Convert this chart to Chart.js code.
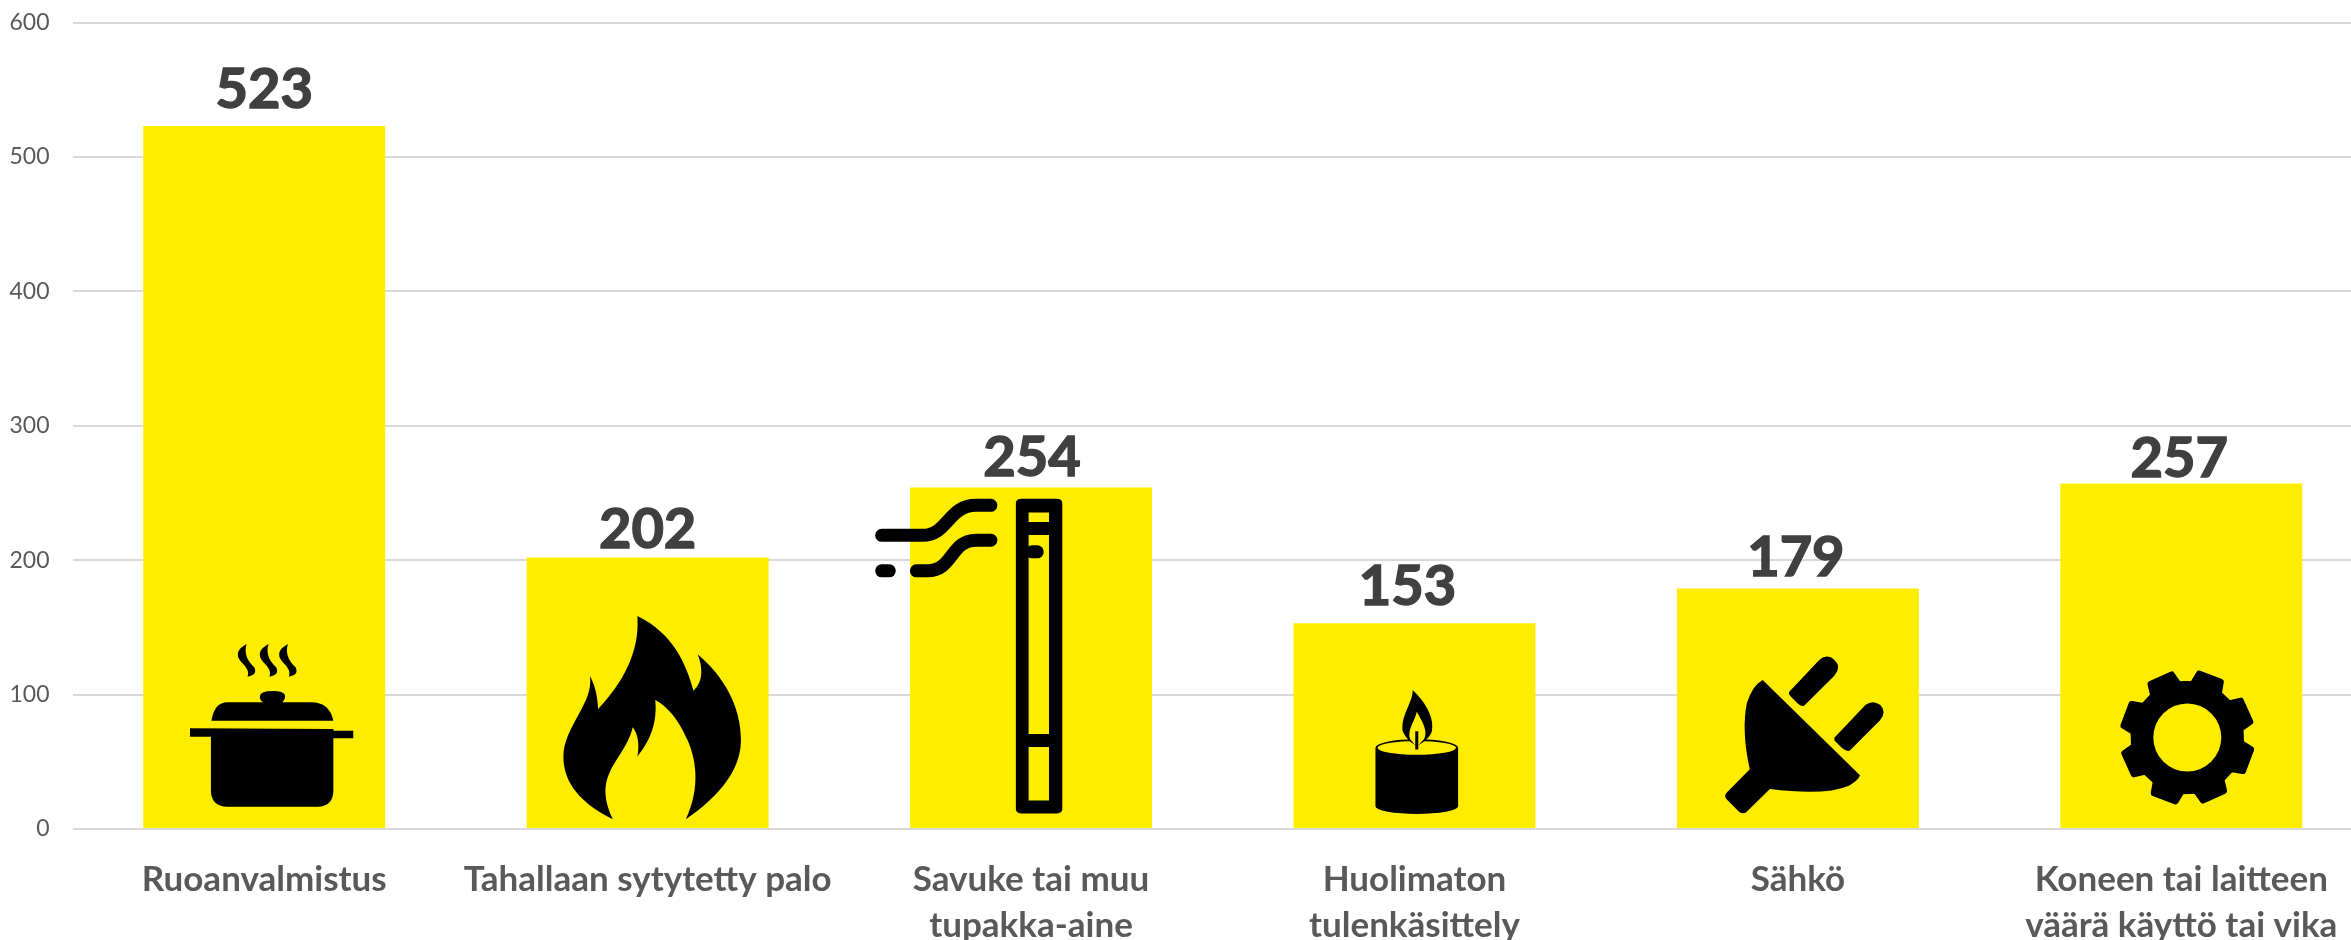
<!DOCTYPE html>
<html>
<head>
<meta charset="utf-8">
<title>Tulipalojen syyt</title>
<script src="https://cdn.jsdelivr.net/npm/chart.js@4/dist/chart.umd.min.js"></script>
<style>
    html, body { margin: 0; padding: 0; background: #fff; overflow: hidden; }
    #wrap { width: 2351px; height: 940px; overflow: hidden; }
    canvas { display: block; }
</style>
</head>
<body>
<div id="wrap"><canvas id="chart" width="2373" height="940"></canvas></div>
<script>
const categories = [
    ["Ruoanvalmistus"],
    ["Tahallaan sytytetty palo"],
    ["Savuke tai muu", "tupakka-aine"],
    ["Huolimaton", "tulenkäsittely"],
    ["Sähkö"],
    ["Koneen tai laitteen", "väärä käyttö tai vika"]
];
const values = [523, 202, 254, 153, 179, 257];
const yMax = 600;
const yStep = 100;

const YELLOW = "#FFED00";
const FONT = "Lato, Carlito, sans-serif";

// value labels do not sit at a constant distance from the bars in the original
const labelGap = [18, 9, 12, 18, 12, 7];
const labelShift = [0, 0, 1, -7, -2, -2];

// icon outlines traced from the zoomed crops: sx/sy turn crop units into pixels,
// ox/oy place the crop relative to the bar centre and the zero line
const crop1 = (ox) => ({ ox, oy: -269, sx: 1 / 1.96, sy: 1 / 3 });
const crop2 = (ox) => ({ ox, oy: -429, sx: 1 / 1.96, sy: 1 / 2.904 });
const crop3 = (ox) => ({ ox, oy: -429, sx: 1 / 2.088, sy: 1 / 2.904 });

function placed(d, c) {
    const p = new Path2D();
    p.addPath(new Path2D(d), new DOMMatrix([c.sx, 0, 0, c.sy, c.ox, c.oy]));
    return p;
}

function drawPot(ctx) {
    const c = crop1(-264);
    ctx.fillStyle = "#000";
    ctx.fill(placed("M413,530 L413,690 Q413,740 445,740 L622,740 Q653,740 653,690 L653,535 L692,535 L692,512 L653,512 L653,507 L372,505 L372,530 Z", c));
    ctx.fill(placed("M414,482 L653,482 Q645,427 610,427 L553,427 Q560,415 558,405 Q555,393 535,393 Q510,393 509,408 Q508,420 515,427 L445,427 Q420,427 414,482 Z", c));
    for (const shift of [0, 43, 81]) {
        ctx.fill(placed("M483,252 Q455,275 472,305 Q490,330 485,350 Q505,345 498,322 Q475,290 483,252 Z", { ...c, ox: c.ox + shift * c.sx }));
    }
}

function drawFlame(ctx) {
    ctx.fillStyle = "#000";
    ctx.fill(placed("M1250,168 C1320,220 1345,310 1360,392 C1380,365 1378,320 1368,283 C1420,350 1453,440 1453,540 C1453,640 1400,720 1345,778 C1375,680 1365,590 1345,530 C1330,480 1310,440 1285,420 C1290,500 1270,550 1250,590 C1255,550 1250,520 1241,502 C1232,560 1205,600 1195,640 C1180,690 1190,740 1202,778 C1140,730 1105,670 1105,590 C1105,500 1165,430 1157,348 C1170,385 1172,420 1173,447 C1220,370 1255,280 1250,168 Z", crop1(-648)));
}

function drawCigarette(ctx) {
    const c = crop2(800 - 1031);
    ctx.fillStyle = "#000";
    ctx.fill(placed("M435,287 L502,287 Q514,287 514,300 L514,1188 Q514,1201 502,1201 L435,1201 Q423,1201 423,1188 L423,300 Q423,287 435,287 Z M448,327 L448,354 L488,354 L488,327 Z M448,392 L448,970 L488,970 L488,392 Z M448,1008 L448,1163 L488,1163 L488,1008 Z", c), "evenodd");
    ctx.strokeStyle = "#000";
    ctx.lineCap = "round";
    ctx.lineWidth = 13;
    ctx.stroke(placed("M160,393 L240,393 C290,393 290,306 345,306 L374,306", c));
    ctx.stroke(placed("M228,496 L250,496 C300,496 295,407 345,407 L374,407", c));
    ctx.stroke(placed("M160,496 L175,496", c));
    ctx.stroke(placed("M455,441 L465,441", c));
}

function drawCandle(ctx) {
    const c = crop2(800 - 1414);
    ctx.fillStyle = "#000";
    ctx.fill(placed("M1127,1010 A81,25 0 0 1 1289,1010 L1289,1180 A81,22 0 0 1 1127,1180 Z M1131,1010 A77,20 0 0 1 1285,1010 A77,20 0 0 1 1131,1010 Z", c), "evenodd");
    ctx.fill(placed("M1200,842 C1220,870 1245,920 1237,965 C1232,985 1215,1000 1208,1005 C1195,995 1185,980 1180,960 C1178,910 1200,880 1200,842 Z", c));
    ctx.fillStyle = YELLOW;
    ctx.fill(placed("M1208,905 C1215,925 1232,960 1222,985 L1208,1008 L1195,985 C1188,960 1205,930 1208,905 Z", c));
    ctx.fillStyle = "#000";
    ctx.fill(placed("M1205,962 L1211,962 L1211,1015 L1205,1015 Z", c));
}

function drawPlug(ctx) {
    const c = crop3(1600 - 1798);
    ctx.fillStyle = "#000";
    ctx.fill(placed("M340,813 L543,1090 Q540,1105 520,1120 Q470,1150 355,1130 L305,1198 Q298,1204 290,1195 L265,1160 Q258,1150 265,1140 L313,1072 Q295,960 307,880 Q318,830 340,813 Z", c));
    ctx.fill(placed("M395,848 L458,755 Q475,735 490,755 Q505,775 490,800 L427,887 Q420,892 412,880 L398,860 Q393,855 395,848 Z", c));
    ctx.fill(placed("M490,980 L555,885 Q570,870 585,885 Q600,905 585,930 L522,1018 Q515,1022 505,1010 L492,992 Q488,986 490,980 Z", c));
}

function drawGear(ctx) {
    const teeth = 8;
    const outer = 65, inner = 54, hole = 34;
    ctx.save();
    ctx.translate(6, -91.5);
    ctx.fillStyle = "#000";
    ctx.strokeStyle = "#000";
    ctx.lineJoin = "round";
    ctx.lineWidth = 6;
    ctx.beginPath();
    for (let i = 0; i < teeth; i++) {
        const a = (i + 0.5) * 2 * Math.PI / teeth - Math.PI / 2 - 0.03;
        const w = 0.18, s = 0.26;
        const corners = [[inner, a - s], [outer, a - w], [outer, a + w], [inner, a + s]];
        for (const [r, t] of corners) ctx.lineTo(r * Math.cos(t), r * Math.sin(t));
    }
    ctx.closePath();
    ctx.stroke();
    ctx.fill();
    ctx.fillStyle = YELLOW;
    ctx.beginPath();
    ctx.arc(0, 0, hole, 0, Math.PI * 2);
    ctx.fill();
    ctx.restore();
}

const icons = [drawPot, drawFlame, drawCigarette, drawCandle, drawPlug, drawGear];

const barDecorations = {
    id: "barDecorations",
    afterDatasetsDraw(chart) {
        const { ctx, scales } = chart;
        const zero = scales.y.getPixelForValue(0);
        chart.getDatasetMeta(0).data.forEach((bar, i) => {
            ctx.save();
            ctx.translate(bar.x, zero);
            icons[i](ctx);
            ctx.restore();

            ctx.save();
            ctx.font = `bold 56px ${FONT}`;
            ctx.fillStyle = "#404040";
            ctx.strokeStyle = "#404040";
            ctx.lineWidth = 1.5;
            ctx.textAlign = "center";
            ctx.textBaseline = "alphabetic";
            ctx.fillText(String(values[i]), bar.x + labelShift[i], bar.y - labelGap[i]);
            ctx.strokeText(String(values[i]), bar.x + labelShift[i], bar.y - labelGap[i]);
            ctx.restore();
        });
    }
};

new Chart(document.getElementById("chart"), {
    type: "bar",
    data: {
        labels: categories,
        datasets: [{
            data: values,
            backgroundColor: YELLOW,
            categoryPercentage: 1,
            barPercentage: 0.631
        }]
    },
    options: {
        responsive: false,
        animation: false,
        plugins: {
            legend: { display: false },
            title: { display: false },
            tooltip: { enabled: false }
        },
        scales: {
            x: {
                grid: { display: false },
                border: { display: false },
                afterFit: (scale) => { scale.height = 111; },
                ticks: {
                    padding: 20,
                    autoSkip: false,
                    maxRotation: 0,
                    color: "#595959",
                    font: { family: FONT, size: 35, weight: "bold", lineHeight: 1.31 }
                }
            },
            y: {
                min: 0,
                max: yMax,
                grid: { color: "#D9D9D9", lineWidth: 2, drawTicks: false },
                border: { display: false },
                afterFit: (scale) => {
                    // tick padding would otherwise push the top gridline down
                    scale.width = 72.5;
                    scale.paddingTop = 22.5;
                    scale.paddingBottom = 0;
                },
                ticks: {
                    stepSize: yStep,
                    padding: 23,
                    color: "#595959",
                    font: { family: FONT, size: 23 }
                }
            }
        }
    },
    plugins: [barDecorations]
});
</script>
</body>
</html>
